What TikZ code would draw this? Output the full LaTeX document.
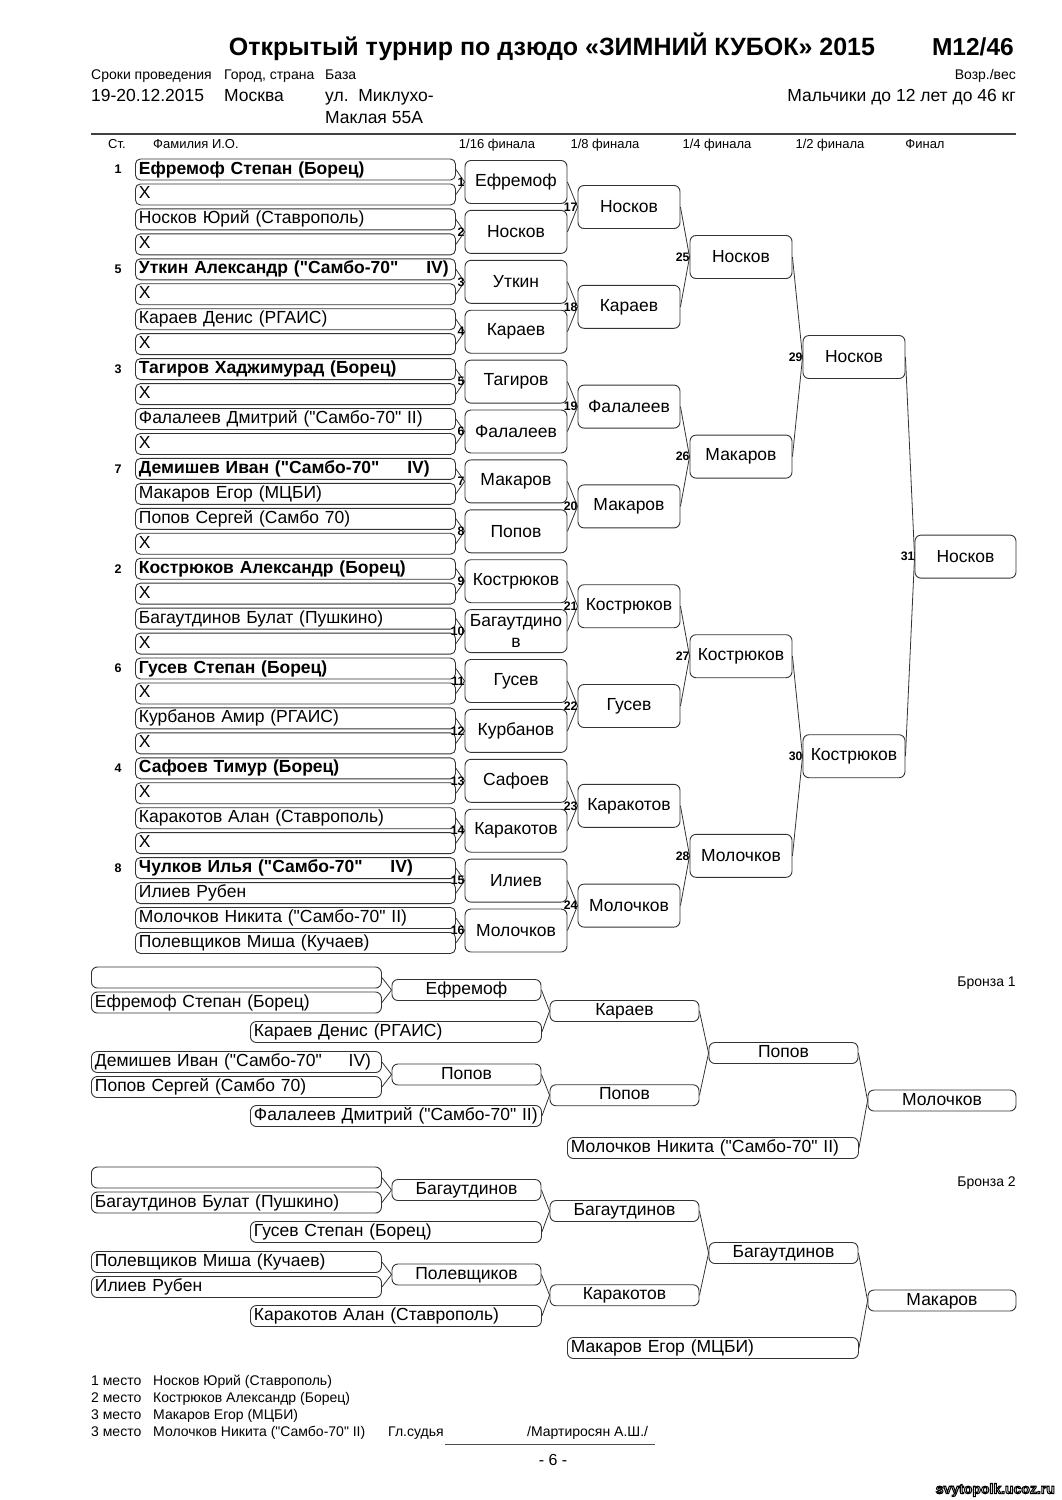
\documentclass[tikz,border=0pt]{standalone}
\usepackage{fontspec}
\setmainfont{Liberation Sans}
\newcommand{\dq}{\XeTeXglyph\XeTeXcharglyph"22\relax}
\begin{document}
\begin{tikzpicture}[x=1pt,y=-1pt,
  lw/.style={line width=0.9pt, draw=black!80},
  conn/.style={line width=0.8pt, draw=black!80},
  pbox/.style={lw, rounded corners=5pt, minimum width=320pt, minimum height=21pt,
    inner xsep=3.5pt, inner ysep=0pt, text width=313pt, align=left,
    text height=12.6pt, text depth=3.6pt,
    font=\fontsize{17.5}{18}\selectfont, anchor=west},
  rbox/.style={lw, rounded corners=6pt, minimum height=43pt, inner sep=1pt,
    align=center, font=\fontsize{17.5}{21}\selectfont},
  bbox/.style={lw, rounded corners=6pt, minimum height=21pt, inner ysep=0pt,
    text height=12.6pt, text depth=3.6pt,
    inner xsep=3.5pt, align=left, font=\fontsize{17.5}{18}\selectfont, anchor=west},
  bround/.style={lw, rounded corners=6pt, minimum height=21pt, minimum width=149pt,
    text height=12.6pt, text depth=3.6pt,
    inner sep=0pt, align=center, font=\fontsize{17.5}{18}\selectfont},
  numl/.style={font=\bfseries\fontsize{12.3}{12.3}\selectfont, anchor=east, inner sep=0.3pt},
  seed/.style={font=\bfseries\fontsize{12.5}{12.5}\selectfont, inner sep=0pt},
  hdr/.style={font=\fontsize{13}{13}\selectfont, inner sep=0pt, text height=9.4pt, text depth=2.7pt},
  small/.style={font=\fontsize{14}{14}\selectfont, inner sep=0pt, text height=10.1pt, text depth=2.9pt},
  mid/.style={font=\fontsize{17.5}{17.5}\selectfont, inner sep=0pt, text height=12.6pt, text depth=3.6pt}
]
\useasboundingbox (0,0) rectangle (1061,1500);
\fill[white] (0,0) rectangle (1061,1500);

% ---------- header ----------
\node[font=\bfseries\fontsize{25}{25}\selectfont, inner sep=0pt] (title) at (552,47) {Открытый турнир по дзюдо «ЗИМНИЙ КУБОК» 2015};
\node[font=\bfseries\fontsize{24.5}{24.5}\selectfont, inner sep=0pt, anchor=east] (cat) at (1014,47) {M12/46};
\node[small, anchor=west] (h1) at (91,76) {Сроки проведения};
\node[small, anchor=west] (h2) at (224,76) {Город, страна};
\node[small, anchor=west] (h3) at (325,76) {База};
\node[small, anchor=east] (h4) at (1016,76) {Возр./вес};
\node[mid, anchor=west] (v1) at (91,97) {19-20.12.2015};
\node[mid, anchor=west] (v2) at (224,97) {Москва};
\node[mid, anchor=west] (v3) at (325,97) {ул.\ \ Миклухо-};
\node[mid, anchor=west] (v3b) at (325,119) {Маклая 55А};
\node[mid, anchor=east] (v4) at (1016,97) {Мальчики до 12 лет до 46 кг};
\draw[line width=1.6pt, black!75] (91,134) -- (1016,134);
\node[hdr] (c0) at (117,145) {Ст.};
\node[hdr, anchor=west] (c1) at (153,145) {Фамилия И.О.};
\node[hdr] (c2) at (497,145) {1/16 финала};
\node[hdr] (c3) at (605,145) {1/8 финала};
\node[hdr] (c4) at (717,145) {1/4 финала};
\node[hdr] (c5) at (830,145) {1/2 финала};
\node[hdr] (c6) at (925,145) {Финал};

% ---------- players ----------
\foreach \n [count=\i from 0] in {
 {\textbf{Ефремоф Степан (Борец)}},X,{Носков Юрий (Ставрополь)},X,
 {\textbf{Уткин Александр (\dq Самбо-70\dq\hspace{22pt} IV)}},X,{Караев Денис (РГАИС)},X,
 {\textbf{Тагиров Хаджимурад (Борец)}},X,{Фалалеев Дмитрий (\dq Самбо-70\dq\ II)},X,
 {\textbf{Демишев Иван (\dq Самбо-70\dq\hspace{22pt} IV)}},{Макаров Егор (МЦБИ)},{Попов Сергей (Самбо 70)},X,
 {\textbf{Кострюков Александр (Борец)}},X,{Багаутдинов Булат (Пушкино)},X,
 {\textbf{Гусев Степан (Борец)}},X,{Курбанов Амир (РГАИС)},X,
 {\textbf{Сафоев Тимур (Борец)}},X,{Каракотов Алан (Ставрополь)},X,
 {\textbf{Чулков Илья (\dq Самбо-70\dq\hspace{22pt} IV)}},{Илиев Рубен},{Молочков Никита (\dq Самбо-70\dq\ II)},{Полевщиков Миша (Кучаев)}} {
  \pgfmathsetmacro\yy{169.5+24.95*\i}
  \node[pbox] (p\i) at (135,\yy) {\n};
}
\foreach \s [count=\j from 0] in {1,5,3,7,2,6,4,8} {
  \pgfmathsetmacro\yy{169.5+24.95*4*\j}
  \node[seed] (s\j) at (118,\yy) {\s};
}

% ---------- 1/16 ----------
\foreach \n [count=\k from 0] in {Ефремоф,Носков,Уткин,Караев,Тагиров,Фалалеев,Макаров,Попов,
  Кострюков,{Багаутдино\\в},Гусев,Курбанов,Сафоев,Каракотов,Илиев,Молочков} {
  \pgfmathsetmacro\yy{182+49.9*\k}
  \node[rbox, minimum width=102pt] (a\k) at (516,\yy) {\n};
  \pgfmathtruncatemacro\pa{2*\k}
  \pgfmathtruncatemacro\pb{2*\k+1}
  \pgfmathtruncatemacro\num{\k+1}
  \draw[conn] (p\pa.east) -- (a\k.west) -- (p\pb.east);
  \node[numl] (na\k) at ([xshift=0.5pt]a\k.west) {\num};
}
% ---------- 1/8 ----------
\foreach \n [count=\k from 0] in {Носков,Караев,Фалалеев,Макаров,Кострюков,Гусев,Каракотов,Молочков} {
  \pgfmathsetmacro\yy{207+99.8*\k}
  \node[rbox, minimum width=102pt] (b\k) at (629,\yy) {\n};
  \pgfmathtruncatemacro\pa{2*\k}
  \pgfmathtruncatemacro\pb{2*\k+1}
  \pgfmathtruncatemacro\num{\k+17}
  \draw[conn] (a\pa.east) -- (b\k.west) -- (a\pb.east);
  \node[numl] (nb\k) at ([xshift=0.5pt]b\k.west) {\num};
}
% ---------- 1/4 ----------
\foreach \n [count=\k from 0] in {Носков,Макаров,Кострюков,Молочков} {
  \pgfmathsetmacro\yy{257+199.6*\k}
  \node[rbox, minimum width=102pt] (c\k) at (741,\yy) {\n};
  \pgfmathtruncatemacro\pa{2*\k}
  \pgfmathtruncatemacro\pb{2*\k+1}
  \pgfmathtruncatemacro\num{\k+25}
  \draw[conn] (b\pa.east) -- (c\k.west) -- (b\pb.east);
  \node[numl] (nc\k) at ([xshift=0.5pt]c\k.west) {\num};
}
% ---------- 1/2 ----------
\foreach \n [count=\k from 0] in {Носков,Кострюков} {
  \pgfmathsetmacro\yy{357+399.2*\k}
  \node[rbox, minimum width=102pt] (d\k) at (854,\yy) {\n};
  \pgfmathtruncatemacro\pa{2*\k}
  \pgfmathtruncatemacro\pb{2*\k+1}
  \pgfmathtruncatemacro\num{\k+29}
  \draw[conn] (c\pa.east) -- (d\k.west) -- (c\pb.east);
  \node[numl] (nd\k) at ([xshift=0.5pt]d\k.west) {\num};
}
% ---------- final ----------
\node[rbox, minimum width=101pt] (f) at (965.5,556.6) {Носков};
\draw[conn] (d0.east) -- (f.west) -- (d1.east);
\node[numl] (nf) at ([xshift=0.5pt]f.west) {31};

% ---------- bronze ----------
\foreach \o/\la/\lb/\ra/\ma/\rb/\lc/\ld/\rc/\mb/\rd/\re/\mc/\rf/\bz [count=\g] in {
  0/{}/{Ефремоф Степан (Борец)}/Ефремоф/{Караев Денис (РГАИС)}/Караев/{Демишев Иван (\dq Самбо-70\dq\hspace{21pt} IV)}/{Попов Сергей (Самбо 70)}/Попов/{Фалалеев Дмитрий (\dq Самбо-70\dq\ II)}/Попов/Попов/{Молочков Никита (\dq Самбо-70\dq\ II)}/Молочков/{Бронза 1},
  200/{}/{Багаутдинов Булат (Пушкино)}/Багаутдинов/{Гусев Степан (Борец)}/Багаутдинов/{Полевщиков Миша (Кучаев)}/{Илиев Рубен}/Полевщиков/{Каракотов Алан (Ставрополь)}/Каракотов/Багаутдинов/{Макаров Егор (МЦБИ)}/Макаров/{Бронза 2}} {
  \node[bbox, minimum width=290pt, text width=283pt] (L1g\g) at (91,977.5+\o) {\la};
  \node[bbox, minimum width=290pt, text width=283pt] (L2g\g) at (91,1002.5+\o) {\lb};
  \node[bround] (R1g\g) at (466.5,990+\o) {\ra};
  \node[bbox, minimum width=291pt, text width=284pt] (M1g\g) at (250,1032+\o) {\ma};
  \node[bround] (R2g\g) at (624.5,1011+\o) {\rb};
  \node[bbox, minimum width=290pt, text width=283pt] (L3g\g) at (91,1062+\o) {\lc};
  \node[bbox, minimum width=290pt, text width=283pt] (L4g\g) at (91,1087+\o) {\ld};
  \node[bround] (R3g\g) at (466.5,1074.5+\o) {\rc};
  \node[bbox, minimum width=291pt, text width=284pt] (M2g\g) at (250,1116+\o) {\mb};
  \node[bround] (R4g\g) at (624.5,1095.25+\o) {\rd};
  \node[bround] (R5g\g) at (783.5,1053+\o) {\re};
  \node[bbox, minimum width=291pt, text width=284pt] (M3g\g) at (567,1148+\o) {\mc};
  \node[bround, minimum width=148pt] (R6g\g) at (942,1100.5+\o) {\rf};
  \node[small, anchor=east] (BZg\g) at (1016,983+\o) {\bz};
  \draw[conn] (L1g\g.east) -- (R1g\g.west) -- (L2g\g.east);
  \draw[conn] (L3g\g.east) -- (R3g\g.west) -- (L4g\g.east);
  \draw[conn] (R1g\g.east) -- (R2g\g.west) -- (M1g\g.east);
  \draw[conn] (R3g\g.east) -- (R4g\g.west) -- (M2g\g.east);
  \draw[conn] (R2g\g.east) -- (R5g\g.west) -- (R4g\g.east);
  \draw[conn] (R5g\g.east) -- (R6g\g.west) -- (M3g\g.east);
}

% ---------- footer ----------
\foreach \pl/\nm [count=\r from 0] in {1 место/{Носков Юрий (Ставрополь)},2 место/{Кострюков Александр (Борец)},3 место/{Макаров Егор (МЦБИ)},3 место/{Молочков Никита (\dq Самбо-70\dq\ II)}} {
  \node[small, anchor=west] (fp\r) at (91,1382+17*\r) {\pl};
  \node[small, anchor=west] (fn\r) at (153,1382+17*\r) {\nm};
}
\node[small, anchor=west] (judge) at (388,1433) {Гл.судья};
\node[small, anchor=west] (jname) at (527,1433) {/Мартиросян А.Ш./};
\coordinate (sl) at (445,1444);
\coordinate (sr) at (655,1444);
\draw[line width=1pt, black!70] (sl) -- (sr);
\node[font=\fontsize{16}{16}\selectfont, inner sep=0pt] (page) at (553,1460) {- 6 -};

% watermark (white letters, black outline)
\node[font=\bfseries\fontsize{14}{14}\selectfont, inner sep=0pt, anchor=east, text=white] (wm) at (1055,1490)
  {\special{pdf:literal direct 2 Tr 1.0 w 0 0 0 RG}svytopolk.ucoz.ru\special{pdf:literal direct 0 Tr}};
\end{tikzpicture}
\end{document}
